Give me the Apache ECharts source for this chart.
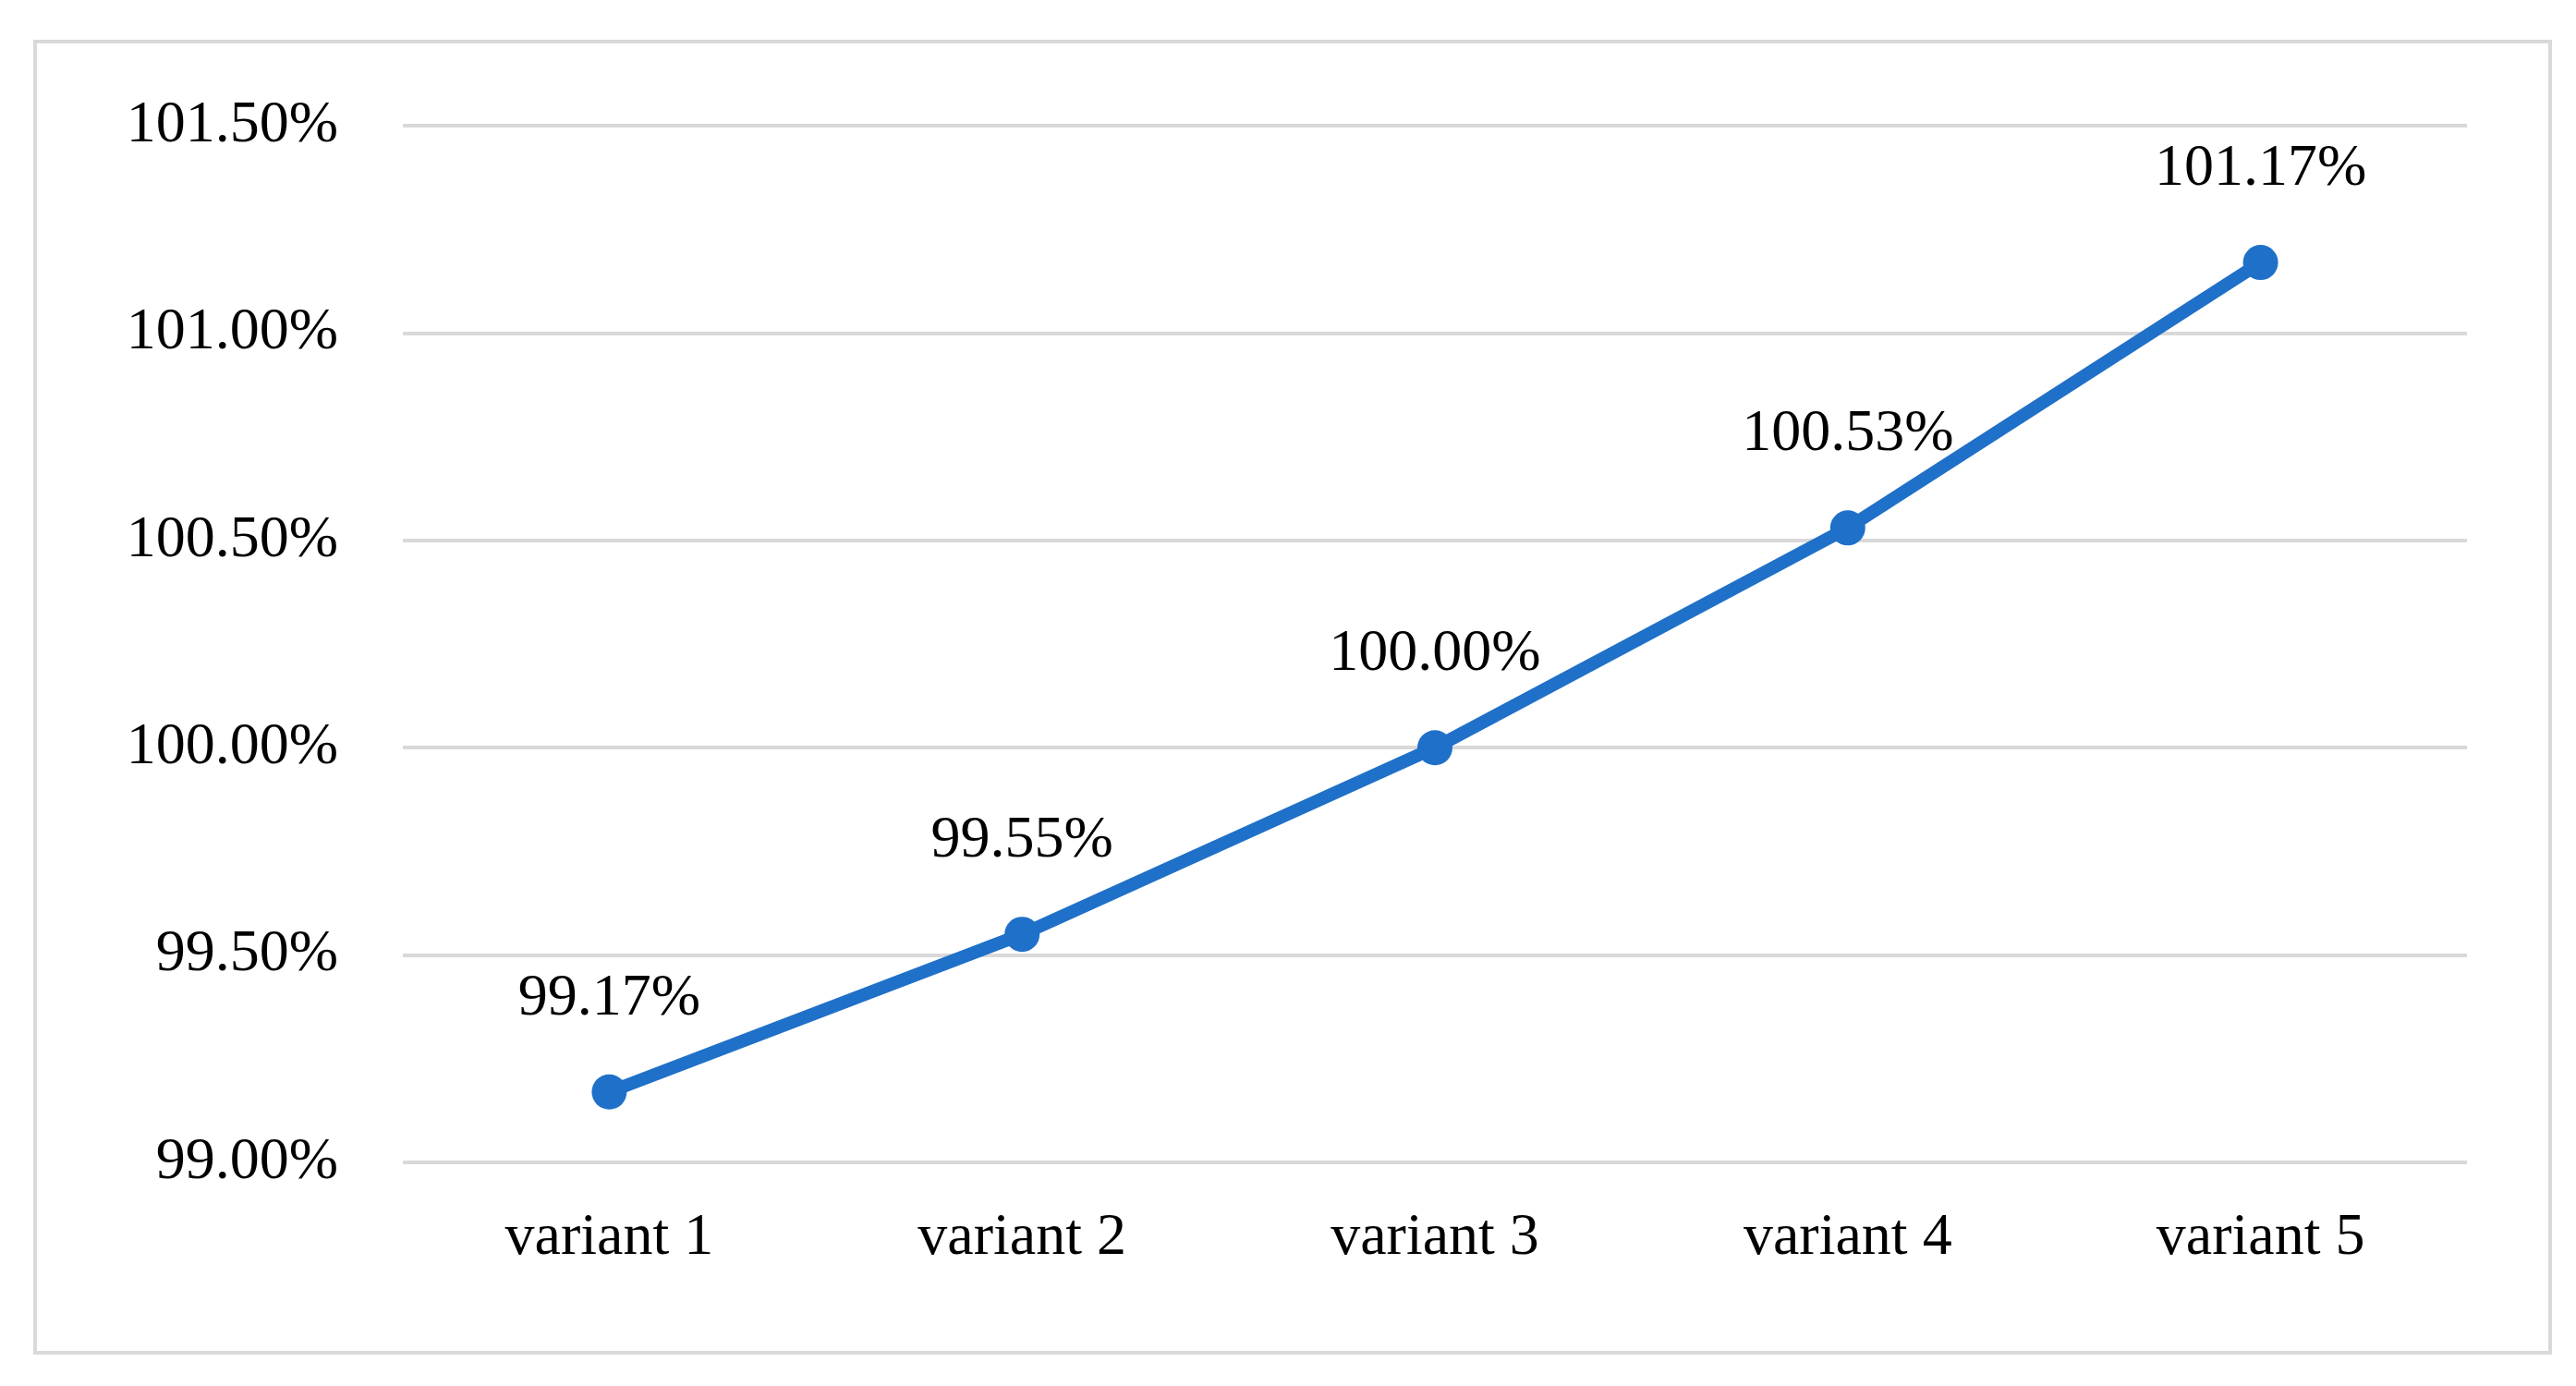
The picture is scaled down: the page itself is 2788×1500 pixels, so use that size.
<!DOCTYPE html>
<html><head><meta charset="utf-8">
<script src="https://cdn.jsdelivr.net/npm/echarts@6/dist/echarts.min.js"></script>
<style>html,body{margin:0;background:#fff}#c{width:2788px;height:1500px}
#box{position:absolute;left:36px;top:43px;width:2726px;height:1423px;border:4px solid #d9d9d9;box-sizing:border-box;pointer-events:none}</style>
</head><body><div id="c"></div><div id="box"></div>
<script>
const categories = ['variant 1','variant 2','variant 3','variant 4','variant 5'];
const values = [99.17, 99.55, 100.00, 100.53, 101.17];
const chart = echarts.init(document.getElementById('c'));
const font = '"Liberation Serif", "DejaVu Serif", serif';
chart.setOption({
  animation:false,
  grid:{left:436,right:118,top:136,bottom:242,containLabel:false},
  xAxis:{type:'category',data:categories,axisLine:{show:false},axisTick:{show:false},
    axisLabel:{fontSize:64,fontFamily:font,color:'#000',margin:50}},
  yAxis:{type:'value',min:99,max:101.5,interval:0.5,axisLine:{show:false},axisTick:{show:false},
    splitLine:{lineStyle:{color:'#d9d9d9',width:4}},
    axisLabel:{fontSize:64,fontFamily:font,color:'#000',margin:70,formatter:v=>v.toFixed(2)+'%'}},
  series:[{type:'line',data:values,color:'#1f70c8',lineStyle:{width:14},symbol:'circle',symbolSize:38,
    label:{show:true,position:'top',distance:50,fontSize:64,fontFamily:font,color:'#000',formatter:p=>p.value.toFixed(2)+'%'}}]
});
</script></body></html>
